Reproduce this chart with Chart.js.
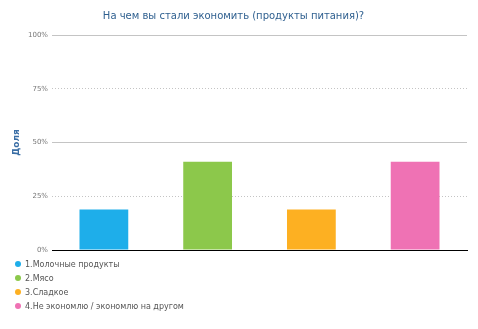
<!DOCTYPE html>
<html>
<head>
<meta charset="utf-8">
<script src="https://cdn.jsdelivr.net/npm/chart.js@4.4.0/dist/chart.umd.min.js"></script>
<style>
  body { margin: 0; background: #fff; }
  #wrap { position: relative; width: 478px; height: 329px; }
  #legend { position: absolute; left: 15px; top: 258px; font: 8px "DejaVu Sans", sans-serif; color: #555; }
  #legend div { height: 14px; line-height: 14px; white-space: nowrap; }
  #legend span { display: inline-block; width: 6px; height: 6px; border-radius: 50%; margin-right: 4px; vertical-align: -0px; }
</style>
</head>
<body>
<div id="wrap">
  <canvas id="myChart" width="478" height="329"></canvas>
  <div id="legend"></div>
</div>
<script>
// Данные
const categories = ['1.Молочные продукты', '2.Мясо', '3.Сладкое', '4.Не экономлю / экономлю на другом'];
const shares = [18.8, 41.1, 18.8, 41.1];
const barColors = ['#1eaeea', '#8cc84b', '#fdb022', '#ef72b4'];
const tickLabels = ['0%', '25%', '50%', '75%', '100%'];

// Легенда
const legend = document.getElementById('legend');
categories.forEach(function (name, i) {
  const row = document.createElement('div');
  row.innerHTML = '<span style="background:' + barColors[i] + '"></span>' + name;
  legend.appendChild(row);
});

const ctx = document.getElementById('myChart');

new Chart(ctx, {
  type: 'bar',
  data: {
    labels: categories,
    datasets: [{
      label: 'Доля',
      data: shares,
      backgroundColor: barColors,
      borderWidth: 0,
      categoryPercentage: 1,
      barPercentage: 0.47
    }]
  },
  options: {
    responsive: false,
    animation: false,
    layout: { padding: { left: 0, right: 11, top: 0, bottom: 79 } },
    scales: {
      x: {
        ticks: { display: false },
        grid: { display: false, drawTicks: false },
        border: { display: true, color: '#000', width: 1 }
      },
      y: {
        min: 0,
        max: 100,
        afterFit: function (scale) { scale.width = 52; },
        ticks: {
          stepSize: 25,
          padding: 4,
          color: '#777',
          font: { family: 'DejaVu Sans', size: 7 },
          callback: function (v, i) { return tickLabels[i]; }
        },
        grid: {
          drawTicks: false,
          color: function (c) { return c.index === 0 ? '#000' : '#c4c4c4'; },
          lineWidth: 1
        },
        border: {
          display: false,
          dash: function (c) { return c.index % 2 === 1 ? [1, 2] : []; }
        },
        title: {
          display: true,
          text: 'Доля',
          color: '#3a6ea5',
          font: { family: 'DejaVu Sans', size: 9, weight: 'bold' },
          padding: { top: 11, bottom: 0 }
        }
      }
    },
    plugins: {
      legend: { display: false },
      tooltip: { enabled: false },
      title: {
        display: true,
        text: 'На чем вы стали экономить (продукты питания)?',
        color: '#2e5f8f',
        font: { family: 'DejaVu Sans', size: 10, weight: 'normal' },
        padding: { top: 10, bottom: 13 }
      }
    }
  }
});
</script>
</body>
</html>
